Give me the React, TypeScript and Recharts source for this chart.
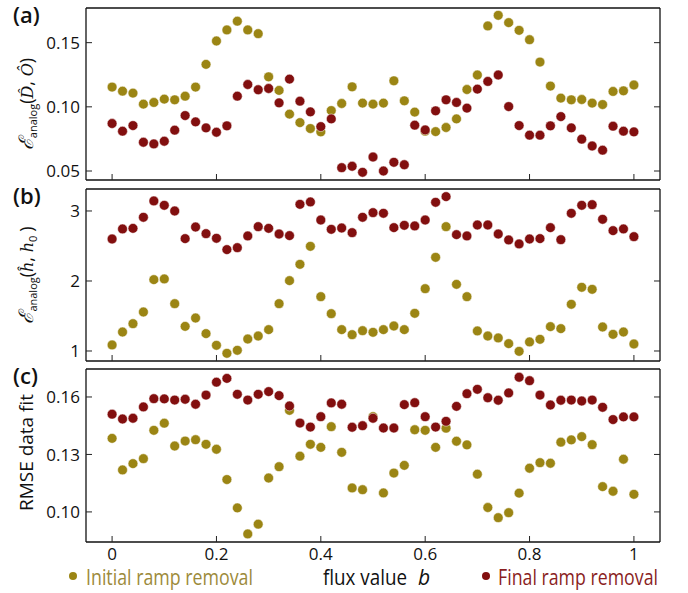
import React from 'react';
import { ScatterChart, Scatter, XAxis, YAxis } from 'recharts';

const fluxValues = [
  0, 0.02, 0.04, 0.06, 0.08, 0.1, 0.12, 0.14, 0.16, 0.18,
  0.2, 0.22, 0.24, 0.26, 0.28, 0.3, 0.32, 0.34, 0.36, 0.38,
  0.4, 0.42, 0.44, 0.46, 0.48, 0.5, 0.52, 0.54, 0.56, 0.58,
  0.6, 0.62, 0.64, 0.66, 0.68, 0.7, 0.72, 0.74, 0.76, 0.78,
  0.8, 0.82, 0.84, 0.86, 0.88, 0.9, 0.92, 0.94, 0.96, 0.98,
  1,
];

const analogDInitial = [
  0.1154, 0.1122, 0.1107, 0.1021, 0.1034, 0.106, 0.1055, 0.1083, 0.1154, 0.1331,
  0.1513, 0.1599, 0.1667, 0.1599, 0.157, 0.1234, 0.1128, 0.0943, 0.0877, 0.0831,
  0.0805, 0.0971, 0.1026, 0.1156, 0.1029, 0.1021, 0.1029, 0.1203, 0.1047, 0.0959,
  0.081, 0.0807, 0.0839, 0.0906, 0.1135, 0.1248, 0.163, 0.1713, 0.1656, 0.1596,
  0.1523, 0.1349, 0.1162, 0.1068, 0.1055, 0.1057, 0.1029, 0.1018, 0.112, 0.1125,
  0.117,
];
const analogDFinal = [
  0.087, 0.081, 0.0854, 0.0724, 0.0711, 0.0732, 0.0818, 0.0932, 0.0883, 0.0836,
  0.0802, 0.0852, 0.1083, 0.1174, 0.1133, 0.1143, 0.1031, 0.1216, 0.1044, 0.0961,
  0.0846, 0.0906, 0.0526, 0.0537, 0.049, 0.0609, 0.05, 0.0568, 0.0549, 0.0857,
  0.082, 0.0969, 0.1055, 0.1034, 0.099, 0.1138, 0.1198, 0.1248, 0.1002, 0.0854,
  0.0779, 0.0779, 0.0852, 0.0924, 0.0836, 0.0748, 0.0695, 0.0662, 0.0849, 0.081,
  0.0805,
];

const analogHInitial = [
  1.086, 1.271, 1.39, 1.557, 2.019, 2.029, 1.676, 1.352, 1.471, 1.248,
  1.081, 0.967, 1.01, 1.171, 1.214, 1.305, 1.676, 2.005, 2.238, 2.495,
  1.776, 1.533, 1.305, 1.233, 1.29, 1.267, 1.305, 1.357, 1.305, 1.538,
  1.89, 2.338, 2.776, 1.952, 1.776, 1.286, 1.214, 1.186, 1.105, 0.995,
  1.129, 1.167, 1.348, 1.319, 1.667, 1.91, 1.881, 1.343, 1.238, 1.271,
  1.1,
];
const analogHFinal = [
  2.6, 2.743, 2.752, 2.91, 3.143, 3.081, 3.0, 2.605, 2.771, 2.676,
  2.61, 2.448, 2.476, 2.643, 2.776, 2.752, 2.671, 2.648, 3.095, 3.129,
  2.871, 2.738, 2.757, 2.69, 2.91, 2.976, 2.967, 2.762, 2.795, 2.786,
  2.871, 3.124, 3.205, 2.662, 2.643, 2.8, 2.8, 2.671, 2.586, 2.529,
  2.6, 2.605, 2.762, 2.59, 2.967, 3.081, 3.09, 2.881, 2.719, 2.743,
  2.633,
];

const rmseInitial = [
  0.1384, 0.1219, 0.1252, 0.1278, 0.1426, 0.1463, 0.1344, 0.137, 0.1377, 0.1353,
  0.1327, 0.1169, 0.1021, 0.0885, 0.0936, 0.1177, 0.1236, 0.153, 0.1291, 0.1353,
  0.1337, 0.1445, 0.1311, 0.1125, 0.1116, 0.1497, 0.1099, 0.1203, 0.1243, 0.1429,
  0.1426, 0.1337, 0.1437, 0.1369, 0.135, 0.1197, 0.1023, 0.097, 0.0996, 0.1098,
  0.1228, 0.1257, 0.1254, 0.1364, 0.1376, 0.1393, 0.1351, 0.1132, 0.1108, 0.1275,
  0.1092,
];
const rmseFinal = [
  0.151, 0.1485, 0.1489, 0.1548, 0.1591, 0.159, 0.1584, 0.1588, 0.1562, 0.161,
  0.1677, 0.1697, 0.1614, 0.1584, 0.1614, 0.1628, 0.1607, 0.1553, 0.1464, 0.1443,
  0.1497, 0.1569, 0.1562, 0.1442, 0.145, 0.1489, 0.1438, 0.1438, 0.156, 0.157,
  0.1497, 0.1443, 0.1473, 0.1551, 0.1617, 0.164, 0.1596, 0.1583, 0.1621, 0.1703,
  0.1685, 0.161, 0.1558, 0.1583, 0.1584, 0.1579, 0.1584, 0.1546, 0.1482, 0.1496,
  0.1496,
];

const fluxTicks = [0, 0.2, 0.4, 0.6, 0.8, 1];
const analogDTicks = [0.05, 0.1, 0.15];
const analogHTicks = [1, 2, 3];
const rmseTicks = [0.1, 0.13, 0.16];

const seriesNames = ['Initial ramp removal', 'Final ramp removal'];

const OLIVE = '#9b8514';
const RED = '#820f0f';
const OLIVE_TEXT = '#9c8a3a';
const RED_TEXT = '#8a1e1e';
const FONT = "'Open Sans', sans-serif";
const TICK = 6;

const toPoints = (ys: number[]) => fluxValues.map((x, i) => ({ x, y: ys[i] }));

const Dot = (color: string) => (props: any) =>
  <circle cx={props.cx} cy={props.cy} r={4.9} fill={color} stroke="#fff" strokeWidth={0.5} />;

const BottomTick = ({ x, y, payload, showLabel }: any) => (
  <g>
    <line x1={x} x2={x} y1={y} y2={y - TICK} stroke="#222" />
    {showLabel && (
      <text x={x} y={y + 18} textAnchor="middle" fontSize={17} fontFamily={FONT} fill="#111">
        {String(payload.value)}
      </text>
    )}
  </g>
);

const TopTick = ({ x, y }: any) => <line x1={x} x2={x} y1={y} y2={y + TICK} stroke="#222" />;

const LeftTick = ({ x, y, payload, fmt }: any) => (
  <g>
    <line x1={x} x2={x + TICK} y1={y} y2={y} stroke="#222" />
    <text x={x - 6} y={y} dy="0.36em" textAnchor="end" fontSize={17} fontFamily={FONT} fill="#111">
      {fmt(payload.value)}
    </text>
  </g>
);

const RightTick = ({ x, y }: any) => <line x1={x} x2={x - TICK} y1={y} y2={y} stroke="#222" />;

function YTitle({ viewBox, letter, kind, shift }: any) {
  const cy = viewBox.y + viewBox.height / 2 + shift;
  const bx = 33;
  let title: React.ReactNode;
  if (kind === 'rmse') {
    title = <tspan fontFamily={FONT} fontSize={19}>RMSE data fit</tspan>;
  } else {
    title = (
      <>
        <tspan fontFamily="'DejaVu Serif', serif" fontStyle="italic" fontSize={20}>ℰ</tspan>
        <tspan fontFamily={FONT} fontSize={11} dy={4}>analog</tspan>
        <tspan fontFamily={FONT} fontSize={18} dy={-4}>(</tspan>
        {kind === 'D' ? (
          <>
            <tspan fontFamily="'DejaVu Serif', serif" fontStyle="italic" fontSize={16}>D̂</tspan>
            <tspan fontFamily={FONT} fontSize={18}>, </tspan>
            <tspan fontFamily="'DejaVu Serif', serif" fontStyle="italic" fontSize={16}>Ô</tspan>
          </>
        ) : (
          <>
            <tspan fontFamily="'DejaVu Serif', serif" fontStyle="italic" fontSize={16}>ĥ</tspan>
            <tspan fontFamily={FONT} fontSize={18}>, </tspan>
            <tspan fontFamily="'DejaVu Serif', serif" fontStyle="italic" fontSize={16}>h</tspan>
            <tspan fontFamily={FONT} fontSize={11} dy={4}>0</tspan>
            <tspan dy={-4}> </tspan>
          </>
        )}
        <tspan fontFamily={FONT} fontSize={18}>)</tspan>
      </>
    );
  }
  return (
    <g>
      <text x={13} y={viewBox.y + 15} fontSize={22} fontWeight={600} fontFamily={FONT} fill="#111">
        {letter}
      </text>
      <text x={bx} y={cy} textAnchor="middle" transform={`rotate(-90 ${bx} ${cy})`} fill="#111">
        {title}
      </text>
    </g>
  );
}

function BottomLegend({ top }: any) {
  const base = 585 - top;
  const mid = 576 - top;
  return (
    <g fontFamily={FONT}>
      <circle cx={73} cy={mid} r={4} fill={OLIVE} />
      <text x={86} y={base} fontSize={21} fill={OLIVE_TEXT} textLength={167} lengthAdjust="spacingAndGlyphs">
        {seriesNames[0]}
      </text>
      <text x={323} y={base} fontSize={21} fill="#111" textLength={84} lengthAdjust="spacingAndGlyphs">
        flux value
      </text>
      <text x={418} y={base} fontSize={21} fontStyle="italic" fill="#111">b</text>
      <circle cx={486} cy={mid} r={4} fill={RED} />
      <text x={498} y={base} fontSize={21} fill={RED_TEXT} textLength={160} lengthAdjust="spacingAndGlyphs">
        {seriesNames[1]}
      </text>
    </g>
  );
}

interface PanelProps {
  top: number;
  height: number;
  plotTop: number;
  plotBottom: number;
  domain: [number, number];
  ticks: number[];
  fmt: (v: number) => string;
  initial: number[];
  final: number[];
  letter: string;
  kind: string;
  shift: number;
  last?: boolean;
}

function Panel(p: PanelProps) {
  const bottomAxisHeight = p.last ? p.height - (p.plotBottom - p.top) : 1;
  const marginTop = p.plotTop - p.top - 1;
  const marginBottom = p.height - (p.plotBottom - p.top) - bottomAxisHeight;
  return (
    <div style={{ position: 'absolute', left: 0, top: p.top }}>
      <ScatterChart
        width={688}
        height={p.height}
        margin={{ top: marginTop, right: 27, bottom: marginBottom, left: 0 }}
      >
        <XAxis
          xAxisId="b"
          dataKey="x"
          type="number"
          domain={[-0.05, 1.05]}
          ticks={fluxTicks}
          interval={0}
          allowDataOverflow
          height={bottomAxisHeight}
          tickSize={0}
          tickMargin={0}
          tickLine={false}
          axisLine={{ stroke: '#111', strokeWidth: 1.3 }}
          tick={(t: any) => <BottomTick {...t} showLabel={!!p.last} />}
          label={p.last ? () => <BottomLegend top={p.top} /> : undefined}
        />
        <XAxis
          xAxisId="t"
          orientation="top"
          type="number"
          domain={[-0.05, 1.05]}
          ticks={fluxTicks}
          interval={0}
          allowDataOverflow
          height={1}
          tickSize={0}
          tickMargin={0}
          tickLine={false}
          axisLine={{ stroke: '#111', strokeWidth: 1.3 }}
          tick={(t: any) => <TopTick {...t} />}
        />
        <YAxis
          yAxisId="l"
          dataKey="y"
          type="number"
          domain={p.domain}
          ticks={p.ticks}
          interval={0}
          allowDataOverflow
          width={86}
          tickSize={0}
          tickMargin={0}
          tickLine={false}
          axisLine={{ stroke: '#111', strokeWidth: 1.3 }}
          tick={(t: any) => <LeftTick {...t} fmt={p.fmt} />}
          label={(lp: any) => <YTitle {...lp} letter={p.letter} kind={p.kind} shift={p.shift} />}
        />
        <YAxis
          yAxisId="r"
          orientation="right"
          type="number"
          domain={p.domain}
          ticks={p.ticks}
          interval={0}
          allowDataOverflow
          width={1}
          tickSize={0}
          tickMargin={0}
          tickLine={false}
          axisLine={{ stroke: '#111', strokeWidth: 1.3 }}
          tick={(t: any) => <RightTick {...t} />}
        />
        <Scatter
          name={seriesNames[0]}
          data={toPoints(p.initial)}
          dataKey="y"
          xAxisId="b"
          yAxisId="l"
          shape={Dot(OLIVE)}
          isAnimationActive={false}
        />
        <Scatter
          name={seriesNames[1]}
          data={toPoints(p.final)}
          dataKey="y"
          xAxisId="b"
          yAxisId="l"
          shape={Dot(RED)}
          isAnimationActive={false}
        />
      </ScatterChart>
    </div>
  );
}

export default function App() {
  return (
    <div style={{ position: 'absolute', left: 0, top: 0, width: 688, height: 593, background: '#fff' }}>
      <Panel
        top={0}
        height={183}
        plotTop={8}
        plotBottom={180}
        domain={[0.043, 0.177]}
        ticks={analogDTicks}
        fmt={(v) => v.toFixed(2)}
        initial={analogDInitial}
        final={analogDFinal}
        letter="(a)"
        kind="D"
        shift={10}
      />
      <Panel
        top={176}
        height={188}
        plotTop={189}
        plotBottom={361}
        domain={[0.857, 3.314]}
        ticks={analogHTicks}
        fmt={(v) => String(v)}
        initial={analogHInitial}
        final={analogHFinal}
        letter="(b)"
        kind="h"
        shift={0}
      />
      <Panel
        top={356}
        height={237}
        plotTop={369}
        plotBottom={542}
        domain={[0.0843, 0.1746]}
        ticks={rmseTicks}
        fmt={(v) => v.toFixed(2)}
        initial={rmseInitial}
        final={rmseFinal}
        letter="(c)"
        kind="rmse"
        shift={-3}
        last
      />
    </div>
  );
}
